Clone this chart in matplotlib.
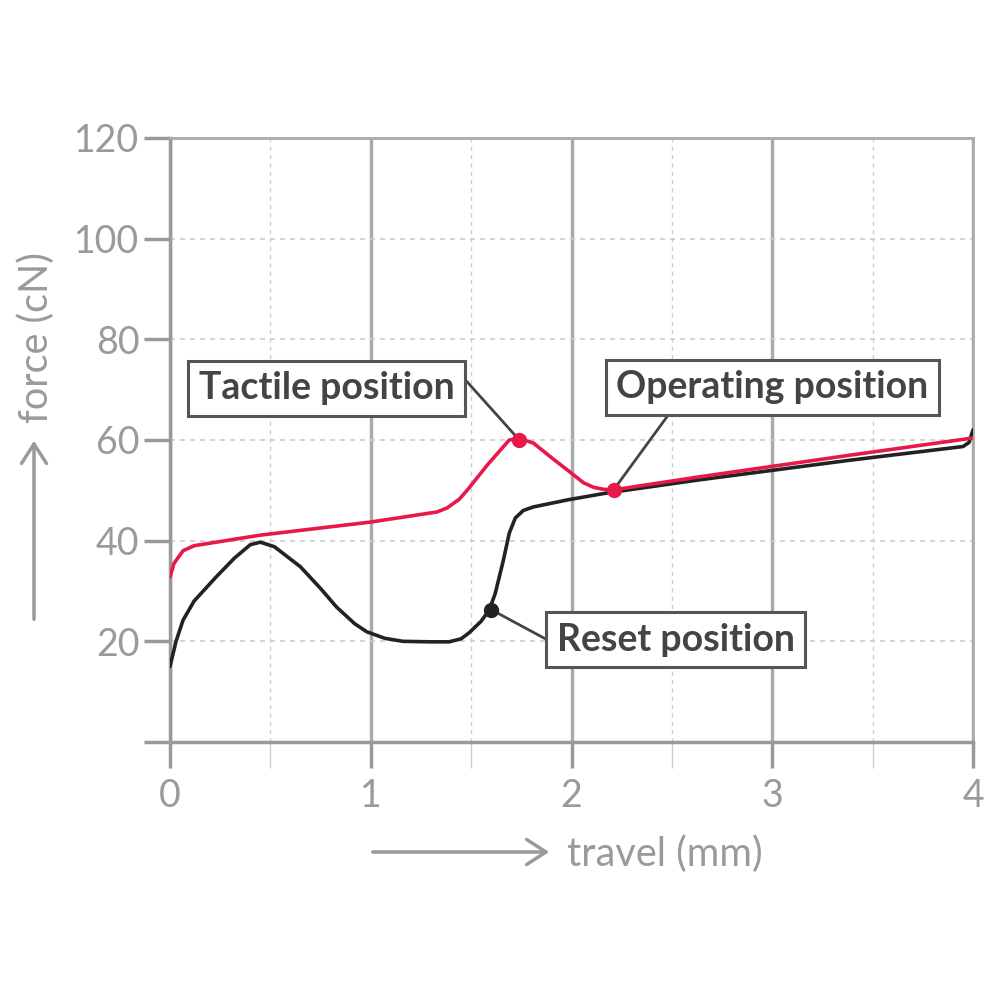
import matplotlib
matplotlib.use("Agg")
import matplotlib.pyplot as plt

# travel (mm) / force (cN)
press_x = [0.0, 0.02, 0.065, 0.12, 0.23, 0.45, 1.0, 1.33, 1.38, 1.44, 1.48, 1.58,
           1.69, 1.74, 1.81, 1.9, 2.0, 2.06, 2.11, 2.16, 2.21, 2.64, 3.39, 4.0]
press_y = [32.8, 35.5, 38.0, 39.0, 39.7, 41.1, 43.7, 45.7, 46.5, 48.2, 50.0, 55.0,
           60.0, 60.3, 59.4, 56.5, 53.4, 51.5, 50.6, 50.2, 50.1, 52.7, 57.0, 60.4]

release_x = [0.0, 0.03, 0.065, 0.12, 0.23, 0.32, 0.40, 0.45, 0.52, 0.65, 0.75, 0.83,
             0.92, 0.98, 1.07, 1.16, 1.30, 1.39, 1.45, 1.49, 1.55, 1.59, 1.62, 1.66,
             1.69, 1.72, 1.76, 1.81, 1.98, 2.18, 2.64, 3.39, 3.95, 3.98, 4.0]
release_y = [15.0, 20.0, 24.2, 28.0, 32.8, 36.5, 39.2, 39.7, 38.8, 34.8, 30.5, 26.8,
             23.5, 21.9, 20.6, 20.0, 19.9, 19.9, 20.5, 21.7, 24.0, 26.2, 29.5, 36.0,
             41.5, 44.5, 46.0, 46.7, 48.1, 49.5, 52.1, 56.0, 58.7, 59.5, 62.0]

labels = ["Tactile position", "Operating position", "Reset position"]
points = [(1.74, 60.0), (2.21, 50.1), (1.6, 26.3)]
label_pos = [(0.78, 70.3), (3.0, 70.5), (2.52, 20.3)]
line_ends = [(1.47, 72.0), (2.49, 65.4), (1.87, 20.5)]
point_colors = ["#e8194a", "#e8194a", "#222222"]

x_ticks = [0, 1, 2, 3, 4]
y_ticks = [0, 20, 40, 60, 80, 100, 120]

gray = "#9a9a9a"
plt.rcParams['font.family'] = ['Lato', 'DejaVu Sans']

fig = plt.figure(figsize=(10, 10), dpi=100)
ax = fig.add_axes([0.17, 0.258, 0.803, 0.604])
ax.set_xlim(0, 4)
ax.set_ylim(0, 120)

ax.set_xticks(x_ticks)
ax.set_xticks([0.5, 1.5, 2.5, 3.5], minor=True)
ax.set_yticks(y_ticks)
ax.set_yticklabels(["", "20", "40", "60", "80", "100", "120"])
ax.tick_params(axis="both", which="major", colors=gray, labelcolor=gray,
               labelsize=27, length=19, width=2.5, pad=3)
ax.tick_params(axis="x", which="major", pad=7)
ax.tick_params(axis="x", which="minor", length=19, width=1, colors="#cccccc")
ax.grid(axis="x", which="major", color="#aaaaaa", lw=2.5, ls="-")
ax.grid(axis="x", which="minor", color="#cccccc", lw=1, ls=(0, (3, 3)))
ax.grid(axis="y", which="major", color="#cccccc", lw=1.2, ls=(0, (3, 3)))
ax.set_axisbelow(True)
for s in ax.spines.values():
    s.set_color(gray)
    s.set_linewidth(2.5)
for s in ["top", "right"]:
    ax.spines[s].set_color("#aaaaaa")
    ax.spines[s].set_linewidth(2)

ax.plot(release_x, release_y, color="#222222", lw=2.6, solid_joinstyle="round",
        solid_capstyle="round", zorder=3)
ax.plot(press_x, press_y, color="#e8194a", lw=2.6, solid_joinstyle="round",
        solid_capstyle="round", zorder=4)

for lab, pt, lp, le, c in zip(labels, points, label_pos, line_ends, point_colors):
    ax.plot([pt[0], le[0]], [pt[1], le[1]], color="#444444", lw=2, zorder=5)
    ax.plot(pt[0], pt[1], "o", color=c, ms=10, zorder=6)
    ax.text(lp[0], lp[1], lab, ha="center", va="center", fontsize=27,
            fontweight="bold", color="#444444", zorder=7,
            bbox=dict(boxstyle="square,pad=0.28", fc="white", ec="#555555", lw=2.2))

# axis labels with arrows
fig.patches.append(matplotlib.patches.FancyArrowPatch(
    (0.370, 0.148), (0.552, 0.148), transform=fig.transFigure,
    arrowstyle="->,head_length=0.7,head_width=0.45", color=gray, lw=2.5,
    mutation_scale=20))
fig.text(0.567, 0.146, "travel (mm)", color=gray, fontsize=28.5, ha="left", va="center")
fig.patches.append(matplotlib.patches.FancyArrowPatch(
    (0.034, 0.378), (0.034, 0.562), transform=fig.transFigure,
    arrowstyle="->,head_length=0.7,head_width=0.45", color=gray, lw=2.5,
    mutation_scale=20))
fig.text(0.036, 0.577, "force (cN)", color=gray, fontsize=28.5, rotation=90,
         ha="center", va="bottom")

fig.savefig("out.png", dpi=100, facecolor="white")
